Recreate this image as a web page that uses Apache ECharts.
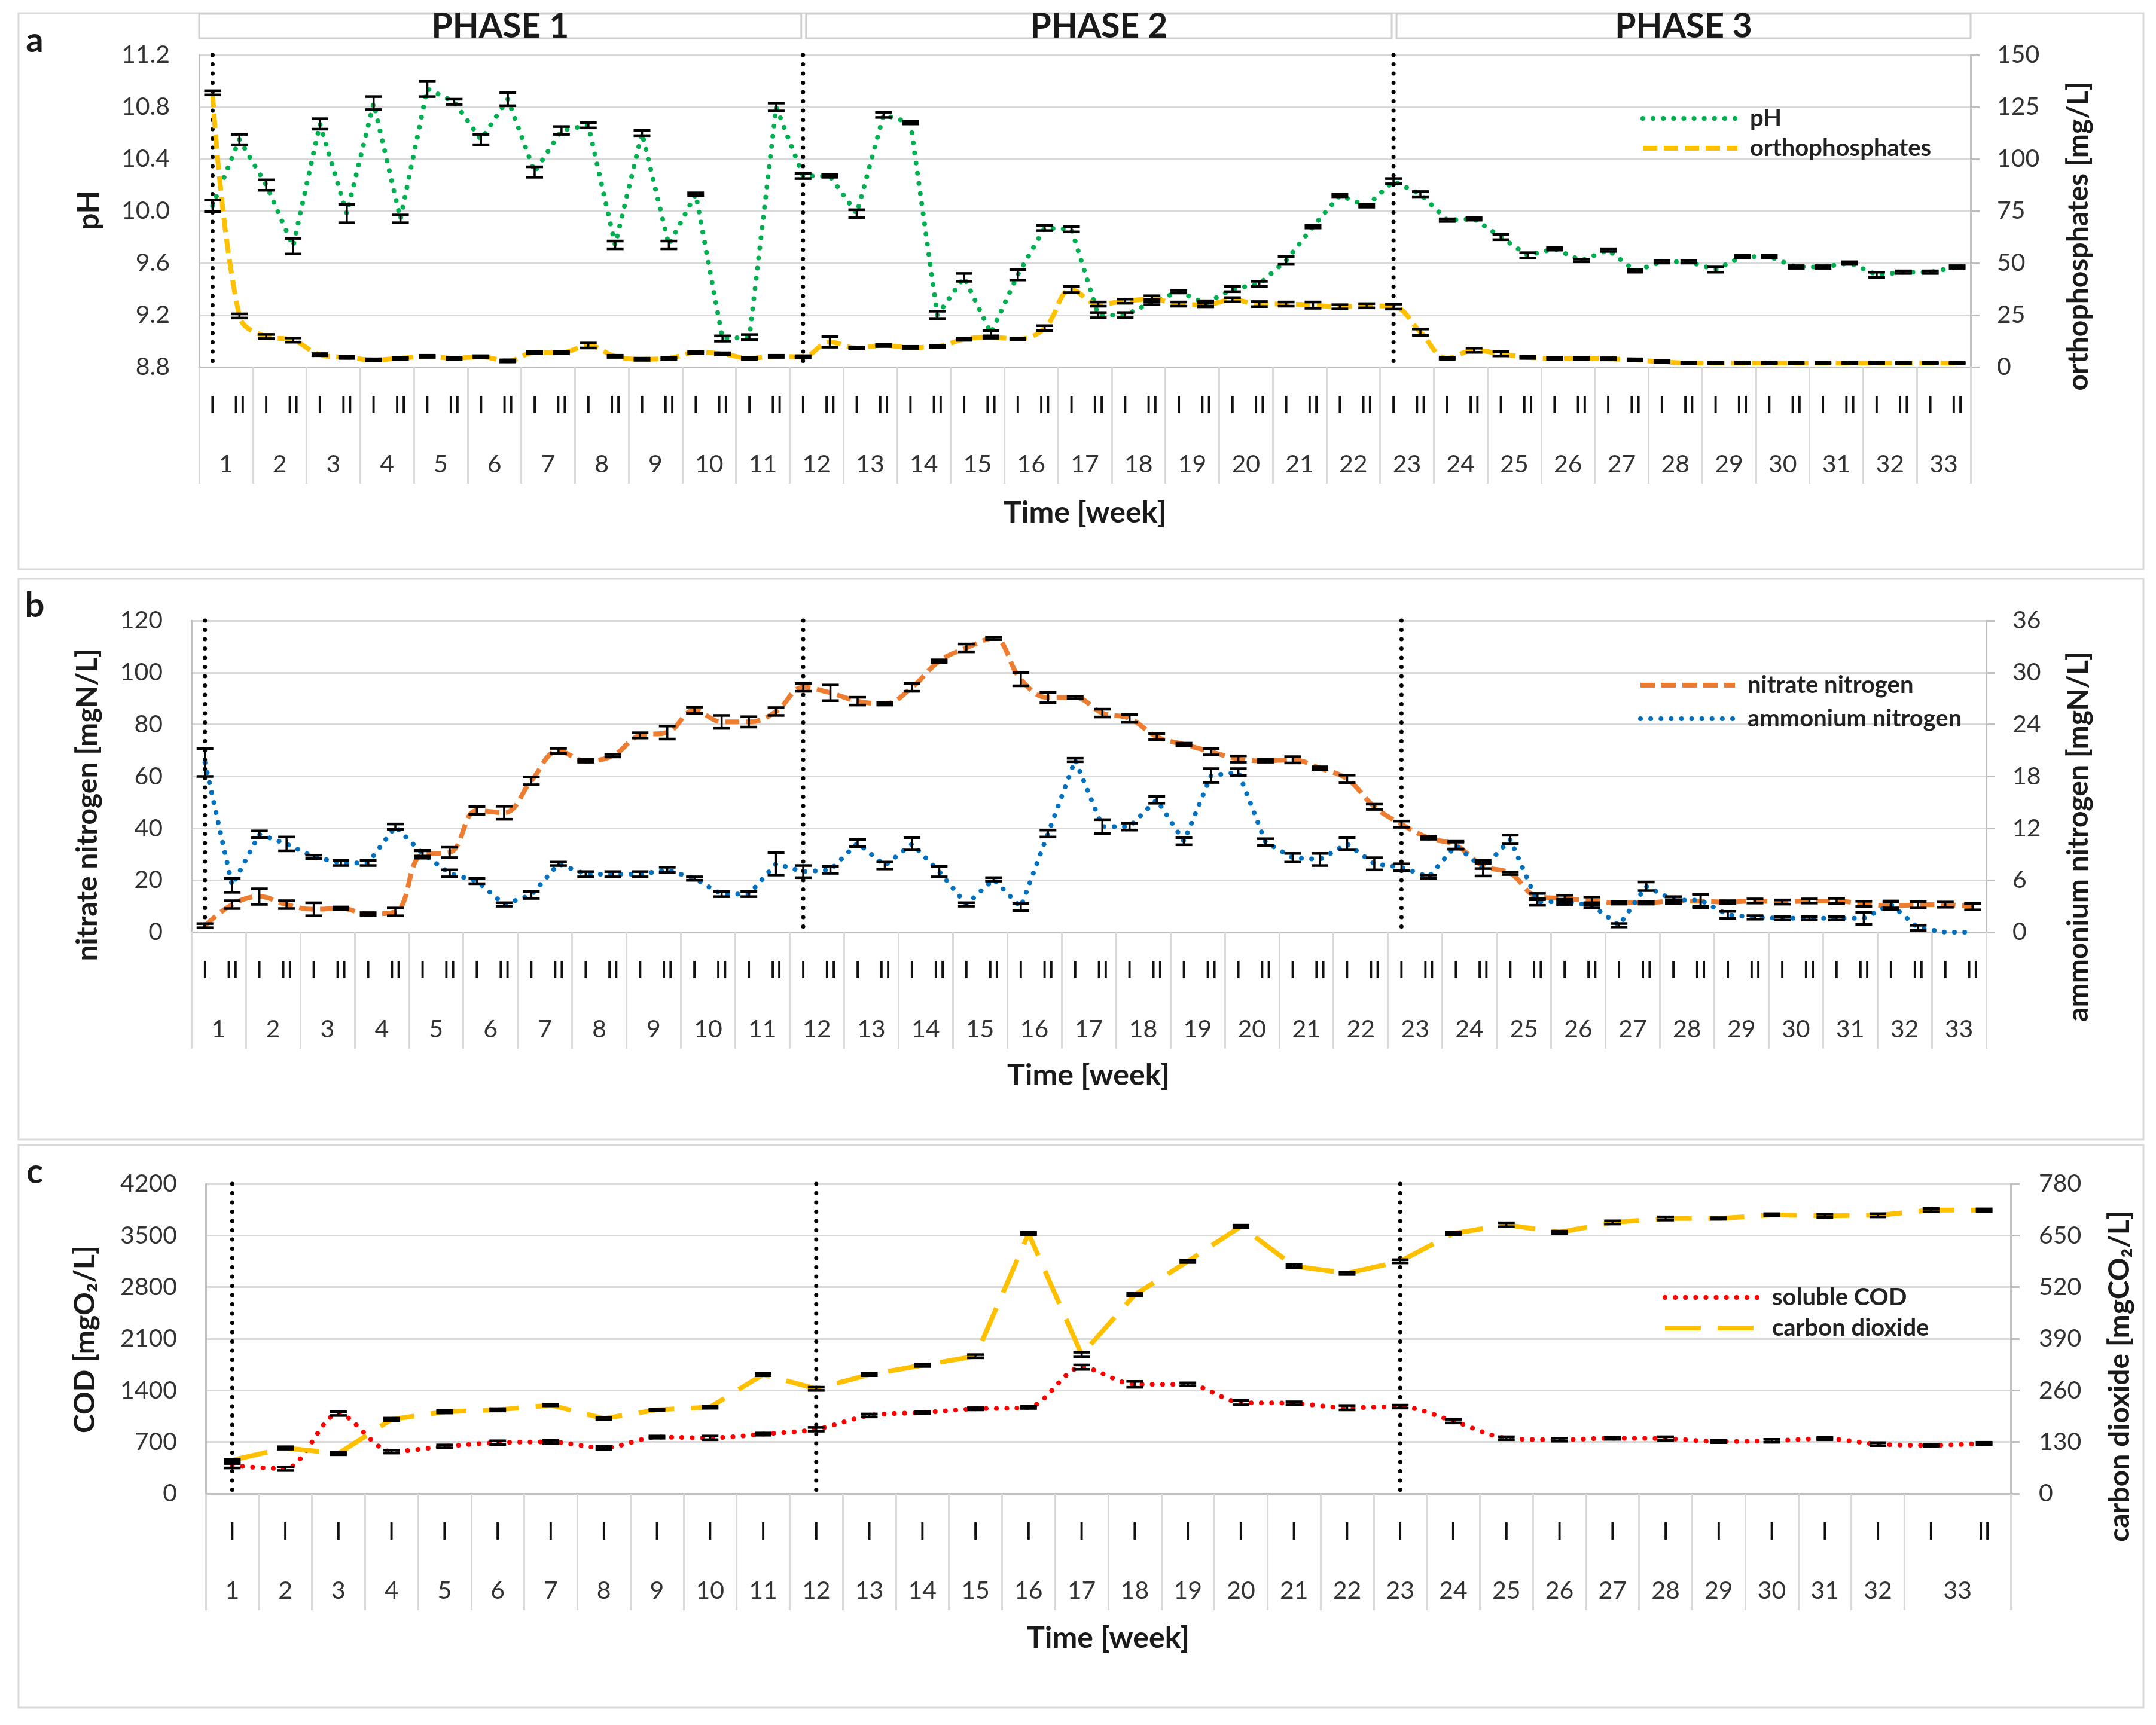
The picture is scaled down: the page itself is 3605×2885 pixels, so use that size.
<!DOCTYPE html>
<html><head><meta charset="utf-8">
<script src="https://cdn.jsdelivr.net/npm/echarts@6/dist/echarts.min.js"></script>
<style>html,body{margin:0;padding:0;background:#fff}#c{width:3605px;height:2885px}</style>
</head><body><div id="c"></div>
<script>
// ---------- DATA ----------
const weeks = [1,2,3,4,5,6,7,8,9,10,11,12,13,14,15,16,17,18,19,20,21,22,23,24,25,26,27,28,29,30,31,32,33];
const sampleTags = ['I','II'];
const phaseNames = ['PHASE 1','PHASE 2','PHASE 3'];
const phaseStartWeeks = [1,12,23];

// panel a (two samples per week: I, II)
const pH = [10.04,10.55, 10.20,9.73, 10.67,9.98, 10.83,9.94, 10.94,10.84, 10.55,10.86, 10.30,10.62, 10.66,9.74, 10.60,9.74, 10.13,9.02,
  9.03,10.80, 10.27,10.27, 9.98,10.74, 10.68,9.20, 9.49,9.06, 9.51,9.87, 9.86,9.20, 9.20,9.30, 9.38,9.29, 9.40,9.44,
  9.62,9.88, 10.12,10.04, 10.23,10.13, 9.93,9.94, 9.80,9.66, 9.71,9.62, 9.70,9.54, 9.61,9.61, 9.55,9.65, 9.65,9.57,
  9.57,9.60, 9.51,9.53, 9.53,9.57];
const pHErr = [0.045,0.04, 0.04,0.06, 0.04,0.07, 0.05,0.03, 0.06,0.02, 0.04,0.05, 0.04,0.03, 0.02,0.03, 0.02,0.03, 0.01,0.02,
  0.02,0.03, 0.02,0.01, 0.03,0.02, 0.01,0.03, 0.03,0.02, 0.04,0.02, 0.02,0.02, 0.02,0.02, 0.01,0.02, 0.02,0.02,
  0.03,0.01, 0.01,0.01, 0.02,0.02, 0.01,0.01, 0.02,0.02, 0.01,0.01, 0.01,0.01, 0.01,0.01, 0.02,0.01, 0.01,0.01,
  0.01,0.01, 0.02,0.01, 0.01,0.01];
const ortho = [131.8,24.6, 14.7,13.0, 6.0,4.7, 3.5,4.3, 5.2,4.3, 5.0,3.0, 7.0,7.0, 10.4,5.2, 3.8,4.3, 7.0,6.4,
  4.3,5.2, 5.0,12.1, 9.2,10.4, 9.5,9.9, 13.4,14.4, 13.5,18.7, 37.3,30.3, 31.7,32.8, 30.3,30.0, 32.4,30.3,
  30.3,29.8, 29.0,29.5, 29.1,16.8, 4.3,8.1, 6.4,4.7, 4.3,4.3, 4.0,3.5, 2.6,2.0, 2.0,2.0, 2.0,2.0,
  2.0,2.0, 2.0,2.0, 2.0,2.0];
const orthoErr = [1,1, 1,1, 0.5,0.5, 0.5,0.5, 0.5,0.5, 0.5,0.5, 0.5,0.5, 1.2,0.5, 0.5,0.5, 0.5,0.5,
  0.5,0.5, 0.5,2.5, 0.5,0.5, 0.5,0.5, 0.5,0.5, 0.5,1.2, 1.5,1, 1,1.5, 1,1, 1,1.2,
  1,1.5, 1,1, 1.2,1.5, 0.5,1, 1,0.5, 0.5,0.5, 0.5,0.5, 0.5,0.5, 0.3,0.3, 0.3,0.3,
  0.3,0.3, 0.3,0.3, 0.3,0.3];

// panel b
const nitrate = [2.5,10.6, 13.7,10.6, 8.8,9.2, 7.0,7.8, 30.0,30.7, 46.9,46.0, 58.3,69.8, 66.0,68.0, 75.8,76.9, 85.5,81.0,
  81.0,85.0, 94.3,92.2, 89.0,88.0, 94.3,104.4, 109.5,113.2, 97.4,90.4, 90.4,84.4, 82.3,75.3, 72.3,69.5, 66.7,66.0,
  66.4,63.2, 59.0,48.3, 41.6,36.3, 33.5,25.5, 22.7,13.7, 13.0,12.0, 11.3,11.3, 12.0,11.9, 11.6,12.0, 11.6,12.0,
  12.0,10.9, 10.2,10.5, 10.6,9.8];
const nitrateErr = [0.8,1.5, 3,1.5, 2.5,0.5, 0.5,1.5, 1.5,2, 1.5,2.5, 1.5,1, 0.5,0.5, 1,2.5, 1.2,2.5,
  2,1.5, 1.5,3, 1.5,0.5, 1.5,0.5, 1.5,0.5, 2.5,2, 0.5,1.5, 1.5,1.2, 0.5,1.2, 1.2,0.5,
  1.2,0.5, 1.5,1, 1.2,0.5, 1.5,1, 0.5,1.2, 1.2,1.5, 0.5,0.5, 0.5,2.5, 0.5,0.8, 0.8,0.8,
  1,1, 1.5,1.2, 1,1.2];
const ammonium = [19.6,5.4, 11.3,10.2, 8.7,8.0, 8.0,12.2, 9.1,6.8, 5.9,3.2, 4.3,7.9, 6.7,6.7, 6.7,7.2, 6.2,4.4,
  4.4,7.9, 7.0,7.2, 10.3,7.7, 10.2,7.0, 3.2,6.1, 2.9,11.4, 19.9,12.2, 12.2,15.3, 10.5,18.1, 18.5,10.4,
  8.6,8.4, 10.2,7.9, 7.5,6.4, 10.0,7.4, 10.7,3.5, 3.5,3.1, 0.8,5.3, 3.7,3.7, 2.0,1.7, 1.6,1.6,
  1.6,1.6, 3.2,0.5, 0,0];
const ammoniumErr = [1.6,0.8, 0.4,0.8, 0.2,0.3, 0.3,0.3, 0.3,0.4, 0.3,0.2, 0.4,0.2, 0.3,0.3, 0.3,0.3, 0.2,0.3,
  0.3,1.3, 0.7,0.4, 0.4,0.4, 0.7,0.6, 0.2,0.2, 0.4,0.4, 0.2,0.8, 0.4,0.4, 0.4,0.8, 0.4,0.4,
  0.5,0.7, 0.7,0.7, 0.4,0.2, 0.4,0.9, 0.5,0.4, 0.3,0.3, 0.2,0.5, 0.4,0.7, 0.4,0.2, 0.2,0.2,
  0.2,0.7, 0.4,0.3, 0,0];

// panel c (one sample per week, week 33 has I and II)
const cod = [378,338,1084,570,640,691,701,620,766,756,807,872,1059,1099,1150,1170,1714,1482,1482,1235,1225,1165,1180,983,
  751,731,751,746,706,716,746,671,655,681];
const codErr = [30,25,25,20,20,25,20,20,15,25,15,25,20,15,15,15,30,40,20,30,20,30,20,25,20,20,15,25,15,20,15,20,15,15];
const co2 = [84,115,101,187,206,211,223,189,211,218,300,264,300,323,346,655,350,501,585,673,573,555,585,655,
  677,658,683,693,693,702,700,701,714,714];
const co2Err = [3,3,3,3,3,3,2,3,2,3,3,4,3,3,4,3,6,3,3,3,4,3,4,3,5,3,4,4,2,3,4,4,4,3];

// ---------- derived categories ----------
const catsAB = [];
weeks.forEach(w => sampleTags.forEach(t => catsAB.push(t)));
const catsC = weeks.map(() => 'I').concat(['II']);
const phaseIdxAB = phaseStartWeeks.map(w => (w - 1) * 2);
const phaseIdxC = phaseStartWeeks.map(w => w - 1);

// ---------- styles ----------
const FONT = 'Lato, "Liberation Sans", sans-serif';
const GRID_LINE = '#d9d9d9';
const AXIS_LINE = '#bfbfbf';
const TXT = '#333333';
const GA = {left: 333, right: 310, top: 92, height: 522};
const GB = {left: 320, right: 284, top: 1038, height: 521};
const GC = {left: 344, right: 243, top: 1980, height: 518};

const STY = {
  'pH': {color: '#00b050', type: [0.1, 17], width: 8, cap: 'round'},
  'orthophosphates': {color: '#ffc000', type: [24, 11], width: 8, cap: 'butt'},
  'nitrate nitrogen': {color: '#ed7d31', type: [24, 11], width: 8, cap: 'butt'},
  'ammonium nitrogen': {color: '#0070c0', type: [0.1, 17], width: 8, cap: 'round'},
  'soluble COD': {color: '#ff0000', type: [0.1, 17], width: 8, cap: 'round'},
  'carbon dioxide': {color: '#ffc000', type: [60, 28], width: 8, cap: 'butt'}
};

function catAxis(gridIndex, data) {
  return {type: 'category', gridIndex, data, position: 'bottom', boundaryGap: true,
    axisLine: {show: true, lineStyle: {color: AXIS_LINE, width: 3}},
    axisTick: {show: false},
    axisLabel: {interval: 0, margin: 44, fontSize: 40, fontFamily: FONT, color: '#111'},
    splitLine: {show: false}};
}
function range(n, off) { const a = []; for (let i = 0; i < n; i++) a.push(i + off); return a; }
function weekAxis(gridIndex, max, tickVals, labelVals, fmt) {
  return {type: 'value', gridIndex, min: 0, max, position: 'bottom',
    axisLine: {show: false}, splitLine: {show: false},
    axisTick: {show: true, customValues: tickVals, length: 195, lineStyle: {color: GRID_LINE, width: 3}},
    axisLabel: {show: true, customValues: labelVals, formatter: fmt, margin: 142, fontSize: 41, fontFamily: FONT, color: TXT}};
}
function yAxis(gridIndex, position, min, max, interval, dec, margin) {
  const left = position === 'left';
  return {type: 'value', gridIndex, position, min, max, interval,
    axisLine: {show: true, lineStyle: {color: AXIS_LINE, width: 3}},
    axisTick: {show: !left, length: 15, lineStyle: {color: AXIS_LINE, width: 3}},
    axisLabel: {margin, fontSize: 41, fontFamily: FONT, color: TXT, formatter: v => v.toFixed(dec)},
    splitLine: {show: left, lineStyle: {color: GRID_LINE, width: 3}}};
}
function line(name, xi, yi, data, smooth) {
  const s = STY[name];
  return {name, type: 'line', xAxisIndex: xi, yAxisIndex: yi, data, symbol: 'none', showSymbol: false,
    smooth, z: 2, lineStyle: Object.assign({}, s), itemStyle: {color: s.color}};
}
function errRender(params, api) {
  const i = api.value(0), v = api.value(1), e = api.value(2);
  if (!(e > 0)) return null;
  const a = api.coord([i, v + e]), b = api.coord([i, v - e]);
  const hw = 14, st = {stroke: '#000', lineWidth: 3.5}, cs = {stroke: '#000', lineWidth: 4.5};
  return {type: 'group', children: [
    {type: 'line', shape: {x1: a[0], y1: a[1], x2: b[0], y2: b[1]}, style: st},
    {type: 'line', shape: {x1: a[0] - hw, y1: a[1], x2: a[0] + hw, y2: a[1]}, style: cs},
    {type: 'line', shape: {x1: b[0] - hw, y1: b[1], x2: b[0] + hw, y2: b[1]}, style: cs}]};
}
function errSeries(xi, yi, vals, errs) {
  return {type: 'custom', xAxisIndex: xi, yAxisIndex: yi, renderItem: errRender, z: 3, silent: true,
    encode: {x: 0, y: 1}, data: vals.map((v, i) => [i, v, errs[i]])};
}
// vertical dotted phase-start markers, placed on the category axis by data index
function phaseRender(params, api) {
  const cs = params.coordSys;
  const x = api.coord([api.value(0), 0])[0];
  return {type: 'line', shape: {x1: x, y1: cs.y, x2: x, y2: cs.y + cs.height},
    style: {stroke: '#000', lineWidth: 7, lineDash: [0.1, 15.4], lineCap: 'round'}};
}
function phaseSeries(xi, yi, idxs) {
  return {type: 'custom', xAxisIndex: xi, yAxisIndex: yi, renderItem: phaseRender, z: 1, silent: true,
    encode: {x: 0}, data: idxs.map(i => [i])};
}
function legend(names, left, top, gap) {
  return {data: names.map(n => ({name: n, lineStyle: Object.assign({}, STY[n]), itemStyle: {opacity: 0}})),
    orient: 'vertical', left, top, itemWidth: 158, itemHeight: 14, itemGap: gap, selectedMode: false,
    textStyle: {fontSize: 40, fontWeight: 'bold', fontFamily: FONT, color: '#222', padding: [0, 0, 0, 16]}};
}

const chart = echarts.init(document.getElementById('c'), null, {renderer: 'canvas'});
const option = {
  animation: false,
  backgroundColor: '#fff',
  grid: [GA, GB, GC],
  xAxis: [
    catAxis(0, catsAB),
    weekAxis(0, 33, range(34, 0), range(33, 0.5), v => String(Math.round(v + 0.5))),
    catAxis(1, catsAB),
    weekAxis(1, 33, range(34, 0), range(33, 0.5), v => String(Math.round(v + 0.5))),
    catAxis(2, catsC),
    weekAxis(2, 34, range(33, 0).concat([34]), range(32, 0.5).concat([33]), v => v === 33 ? '33' : String(Math.round(v + 0.5)))
  ],
  yAxis: [
    yAxis(0, 'left', 8.8, 11.2, 0.4, 1, 49),
    yAxis(0, 'right', 0, 150, 25, 0, 44),
    yAxis(1, 'left', 0, 120, 20, 0, 48),
    yAxis(1, 'right', 0, 36, 6, 0, 44),
    yAxis(2, 'left', 0, 4200, 700, 0, 48),
    yAxis(2, 'right', 0, 780, 130, 0, 47)
  ],
  legend: [
    legend(['pH', 'orthophosphates'], 2738, 173, 10),
    legend(['nitrate nitrogen', 'ammonium nitrogen'], 2734, 1121, 16),
    legend(['soluble COD', 'carbon dioxide'], 2775, 2145, 11)
  ],
  series: [
    phaseSeries(0, 0, phaseIdxAB),
    line('pH', 0, 0, pH, false),
    line('orthophosphates', 0, 1, ortho, 0.4),
    errSeries(0, 0, pH, pHErr),
    errSeries(0, 1, ortho, orthoErr),
    phaseSeries(2, 2, phaseIdxAB),
    line('nitrate nitrogen', 2, 2, nitrate, 0.4),
    line('ammonium nitrogen', 2, 3, ammonium, false),
    errSeries(2, 2, nitrate, nitrateErr),
    errSeries(2, 3, ammonium, ammoniumErr),
    phaseSeries(4, 4, phaseIdxC),
    line('soluble COD', 4, 4, cod, 0.3),
    line('carbon dioxide', 4, 5, co2, false),
    errSeries(4, 4, cod, codErr),
    errSeries(4, 5, co2, co2Err)
  ]
};
chart.setOption(option);

// ---------- decorations (panel frames, letters, titles, phase headers) ----------
function txt(x, y, text, size, rot, weight) {
  return {type: 'text', x, y, rotation: rot || 0, z: 10, silent: true,
    style: {text, fontSize: size, fontWeight: weight || 'bold', fontFamily: FONT, fill: '#1a1a1a',
      align: 'center', verticalAlign: 'middle', textAlign: 'center', textVerticalAlign: 'middle'}};
}
function frame(x, y, w, h) {
  return {type: 'rect', shape: {x, y, width: w, height: h}, z: -10, silent: true,
    style: {fill: 'none', stroke: '#d9d9d9', lineWidth: 3}};
}
const R = Math.PI / 2;
const gAleft = GA.left, gAright = 3605 - GA.right;
const px = phaseIdxAB.map(i => chart.convertToPixel({xAxisIndex: 0}, i));
const phaseBounds = [[gAleft, px[1] - 3], [px[1] + 5, px[2] - 3], [px[2] + 5, gAright]];
const graphics = [
  frame(31, 22, 3553, 930), frame(31, 968, 3553, 938), frame(31, 1915, 3553, 941),
  txt(58, 68, 'a', 58), txt(58, 1013, 'b', 58), txt(58, 1960, 'c', 58),
  txt(149, 352, 'pH', 50, R), txt(3476, 395, 'orthophosphates [mg/L]', 48, R), txt(1814, 858, 'Time [week]', 50),
  txt(147, 1346, 'nitrate nitrogen [mgN/L]', 48, R), txt(3476, 1399, 'ammonium nitrogen [mgN/L]', 48, R), txt(1820, 1799, 'Time [week]', 50),
  txt(143, 2240, 'COD [mgO₂/L]', 48, R), txt(3545, 2302, 'carbon dioxide [mgCO₂/L]', 48, R), txt(1853, 2740, 'Time [week]', 50)
];
phaseBounds.forEach((b, k) => {
  graphics.push({type: 'rect', shape: {x: b[0], y: 23, width: b[1] - b[0], height: 41}, z: 5, silent: true,
    style: {fill: '#fff', stroke: '#d0d0d0', lineWidth: 3}});
  graphics.push(txt((b[0] + b[1]) / 2, 45, phaseNames[k], 57));
});
chart.setOption({graphic: graphics});
</script>
</body></html>
